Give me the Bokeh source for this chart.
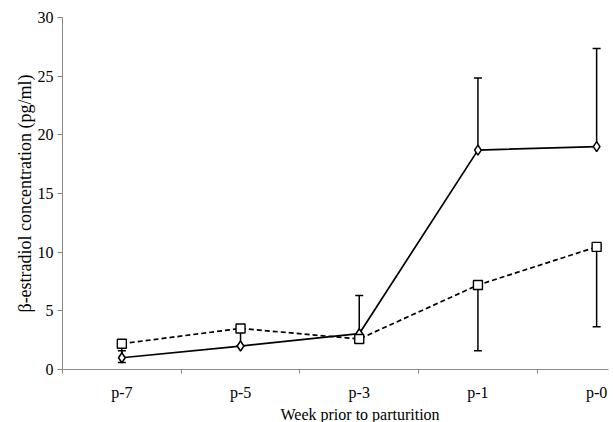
from bokeh.plotting import figure
from bokeh.models import Range1d, FixedTicker, Whisker, TeeHead, ColumnDataSource, Title
from bokeh.embed import file_html
from bokeh.resources import INLINE

weeks = ["p-7", "p-5", "p-3", "p-1", "p-0"]
solid_vals = [1.0, 2.0, 3.05, 18.7, 19.0]
solid_upper = [1.6, 2.0, 6.3, 24.85, 27.35]
dashed_vals = [2.2, 3.5, 2.6, 7.2, 10.45]
dashed_lower = [0.6, 2.0, 2.3, 1.6, 3.65]

xs = [i + 0.5 for i in range(len(weeks))]
FONT = "Liberation Serif"

p = figure(width=613, height=422, output_backend="svg", toolbar_location=None,
           x_range=Range1d(0, 4.6), y_range=Range1d(0, 30),
           min_border_left=62, min_border_right=5, min_border_top=17, min_border_bottom=53)
p.outline_line_color = None
p.xgrid.visible = False
p.ygrid.visible = False
p.background_fill_color = "white"

# axes
xa = p.xaxis[0]
xa.ticker = FixedTicker(ticks=xs, minor_ticks=list(range(len(weeks))))
xa.major_label_overrides = {x: w for x, w in zip(xs, weeks)}
xa.major_tick_out = 0
xa.major_tick_in = 0
xa.minor_tick_out = 4
xa.minor_tick_in = 0
xa.minor_tick_line_color = "#888888"
xa.axis_line_color = "#888888"
xa.major_label_text_font = FONT
xa.major_label_text_font_size = "16px"
xa.major_label_text_color = "black"
xa.major_label_standoff = 10

ya = p.yaxis[0]
ya.ticker = FixedTicker(ticks=[0, 5, 10, 15, 20, 25, 30])
ya.minor_tick_out = 0
ya.minor_tick_in = 0
ya.major_tick_out = 5
ya.major_tick_in = 0
ya.major_tick_line_color = "#888888"
ya.axis_line_color = "#888888"
ya.major_label_text_font = FONT
ya.major_label_text_font_size = "16px"
ya.major_label_text_color = "black"
ya.major_label_standoff = 4
ya.axis_label = "β-estradiol concentration (pg/ml)"
ya.axis_label_text_font = FONT
ya.axis_label_text_font_size = "18px"
ya.axis_label_text_font_style = "normal"
ya.axis_label_text_color = "black"
ya.axis_label_standoff = 0

src_s = ColumnDataSource(dict(x=xs, y=solid_vals, up=solid_upper))
src_d = ColumnDataSource(dict(x=xs, y=dashed_vals, lo=dashed_lower))

p.add_layout(Whisker(source=src_s, base="x", upper="up", lower="y", lower_head=None,
                     upper_head=TeeHead(size=8, line_color="black", line_width=1.5),
                     line_color="black", line_width=1.5))
p.add_layout(Whisker(source=src_d, base="x", upper="y", lower="lo", upper_head=None,
                     lower_head=TeeHead(size=8, line_color="black", line_width=1.5),
                     line_color="black", line_width=1.5))

p.line("x", "y", source=src_s, line_color="black", line_width=1.7)
p.line("x", "y", source=src_d, line_color="black", line_width=1.7, line_dash="5 3")

p.scatter("x", "y", source=src_s, marker="diamond", size=10, fill_color="white",
          line_color="black", line_width=1.5)
p.scatter("x", "y", source=src_d, marker="square", size=9, fill_color="white",
          line_color="black", line_width=1.4)

p.add_layout(Title(text="Week prior to parturition", align="left", offset=218,
                   text_font=FONT, text_font_size="16px", text_font_style="normal",
                   text_color="black", standoff=0), "below")

open("out.html", "w").write(file_html(p, INLINE))
